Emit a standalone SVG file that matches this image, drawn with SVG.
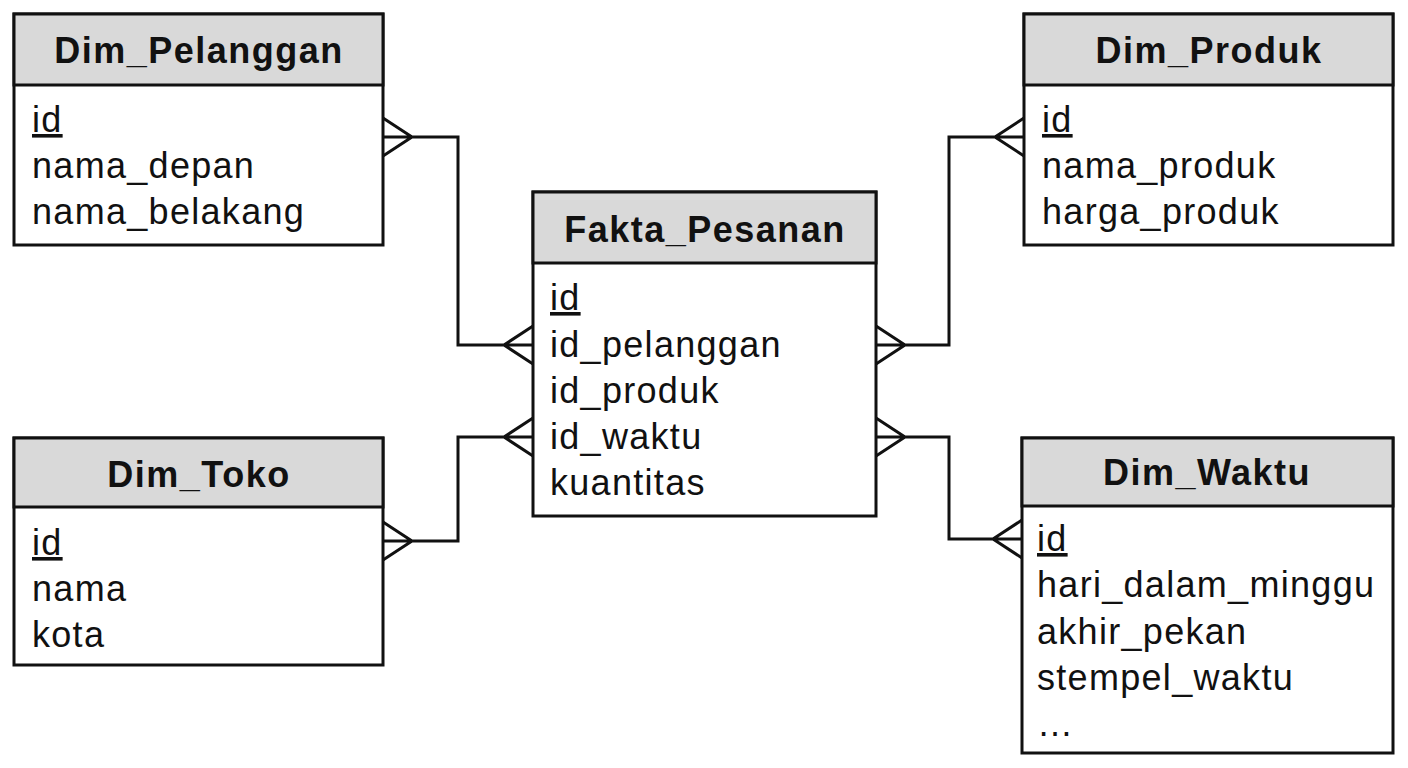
<svg xmlns="http://www.w3.org/2000/svg" width="1408" height="768" viewBox="0 0 1408 768">
<style>
.box{fill:#fff;stroke:#111;stroke-width:3}
.hd{fill:#d9d9d9;stroke:#111;stroke-width:3}
.t{font-family:"Liberation Sans",Arial,sans-serif;font-size:36px;letter-spacing:1.3px;fill:#111}
.h{font-family:"Liberation Sans",Arial,sans-serif;font-size:36px;letter-spacing:1.5px;font-weight:bold;fill:#111;text-anchor:middle}
.c{fill:none;stroke:#111;stroke-width:3}
</style>
<rect width="1408" height="768" fill="#fff"/>
<g id="connectors">
<path class="c" d="M383,137H458V345H533M383,118L412,137L383,156M533,326L504,345L533,364"/>
<path class="c" d="M383,541H458V437H533M383,522L412,541L383,560M533,418L504,437L533,456"/>
<path class="c" d="M876,345H949V137H1024M876,326L905,345L876,364M1024,118L995,137L1024,156"/>
<path class="c" d="M876,437H949V539H1022M876,418L905,437L876,456M1022,520L993,539L1022,558"/>
</g>
<g id="Dim_Pelanggan">
<rect class="box" x="14" y="14" width="369" height="231"/><rect class="hd" x="14" y="14" width="369" height="71"/>
<text class="h" x="199" y="63">Dim_Pelanggan</text>
<text class="t" x="32" y="132" text-decoration="underline">id</text>
<text class="t" x="32" y="178">nama_depan</text>
<text class="t" x="32" y="224">nama_belakang</text>
</g>
<g id="Dim_Produk">
<rect class="box" x="1024" y="14" width="369" height="231"/><rect class="hd" x="1024" y="14" width="369" height="71"/>
<text class="h" x="1209" y="63">Dim_Produk</text>
<text class="t" x="1042" y="132" text-decoration="underline">id</text>
<text class="t" x="1042" y="178">nama_produk</text>
<text class="t" x="1042" y="224">harga_produk</text>
</g>
<g id="Fakta_Pesanan">
<rect class="box" x="533" y="192" width="343" height="324"/><rect class="hd" x="533" y="192" width="343" height="71"/>
<text class="h" x="705" y="242">Fakta_Pesanan</text>
<text class="t" x="550" y="310" text-decoration="underline">id</text>
<text class="t" x="550" y="357">id_pelanggan</text>
<text class="t" x="550" y="403">id_produk</text>
<text class="t" x="550" y="449">id_waktu</text>
<text class="t" x="550" y="495">kuantitas</text>
</g>
<g id="Dim_Toko">
<rect class="box" x="14" y="438" width="369" height="227"/><rect class="hd" x="14" y="438" width="369" height="69"/>
<text class="h" x="199" y="487">Dim_Toko</text>
<text class="t" x="32" y="555" text-decoration="underline">id</text>
<text class="t" x="32" y="601">nama</text>
<text class="t" x="32" y="647">kota</text>
</g>
<g id="Dim_Waktu">
<rect class="box" x="1022" y="438" width="371" height="315"/><rect class="hd" x="1022" y="438" width="371" height="68"/>
<text class="h" x="1207" y="485">Dim_Waktu</text>
<text class="t" x="1037" y="551" text-decoration="underline">id</text>
<text class="t" x="1037" y="597">hari_dalam_minggu</text>
<text class="t" x="1037" y="644">akhir_pekan</text>
<text class="t" x="1037" y="690">stempel_waktu</text>
<text class="t" x="1037" y="736">…</text>
</g>
</svg>
